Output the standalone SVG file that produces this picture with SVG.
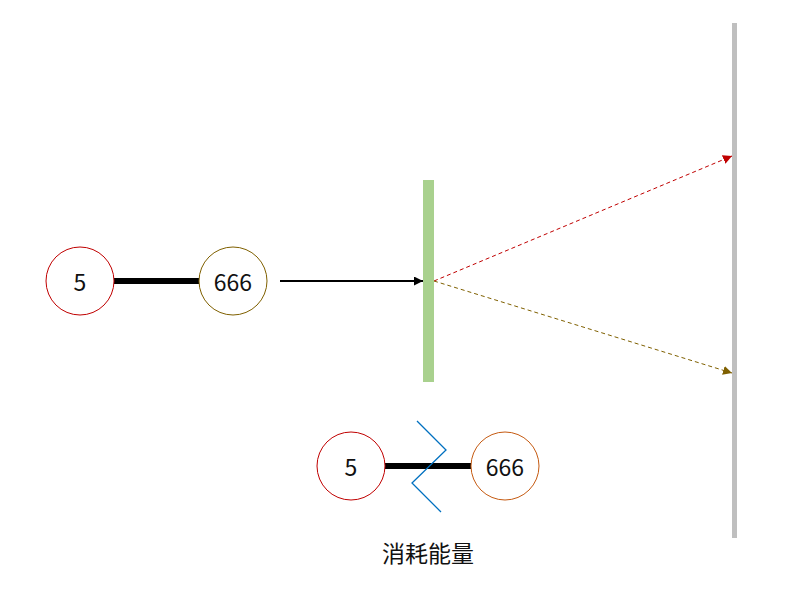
<svg xmlns="http://www.w3.org/2000/svg" width="785" height="596" viewBox="0 0 785 596">
<style>
.node{fill:#ffffff;stroke-width:1}
.lbl{font-family:"Noto Sans CJK SC","Noto Sans",sans-serif;font-size:23px;font-weight:400;fill:#111111;text-anchor:middle;dominant-baseline:central}
.bond{stroke:#000;stroke-width:6}
</style>
<defs>
<marker id="ab" viewBox="0 0 10 10" refX="10" refY="5" markerWidth="4.5" markerHeight="4.5" orient="auto" markerUnits="strokeWidth"><path d="M0,0L10,5L0,10z" fill="#000"/></marker>
<marker id="ar" viewBox="0 0 10 10" refX="10" refY="5" markerWidth="9" markerHeight="9" orient="auto" markerUnits="strokeWidth"><path d="M0,0L10,5L0,10z" fill="#c00000"/></marker>
<marker id="ao" viewBox="0 0 10 10" refX="10" refY="5" markerWidth="9" markerHeight="9" orient="auto" markerUnits="strokeWidth"><path d="M0,0L10,5L0,10z" fill="#7f6000"/></marker>
</defs>
<rect width="785" height="596" fill="#ffffff"/>
<g id="connectors">
<line class="bond" x1="114" y1="281" x2="199" y2="281"/>
<line x1="280" y1="281" x2="423" y2="281" stroke="#000" stroke-width="2" marker-end="url(#ab)"/>
<line x1="434" y1="281" x2="732" y2="156" stroke="#c00000" stroke-width="1" stroke-dasharray="4,3" marker-end="url(#ar)"/>
<line x1="434" y1="281" x2="732" y2="373" stroke="#7f6000" stroke-width="1" stroke-dasharray="4,3" marker-end="url(#ao)"/>
<line class="bond" x1="385" y1="466" x2="471" y2="466"/>
</g>
<g id="mirror"><rect x="423" y="180" width="11" height="202" fill="#a9d18e"/></g>
<g id="wall"><rect x="732" y="23" width="5" height="515" fill="#bfbfbf"/></g>
<g id="n1"><circle class="node" cx="80" cy="281" r="34" stroke="#c00000"/><text class="lbl" x="80" y="281">5</text></g>
<g id="n2"><circle class="node" cx="233" cy="281" r="34" stroke="#7f6000"/><text class="lbl" x="233" y="281">666</text></g>
<g id="n3"><circle class="node" cx="351" cy="466" r="34" stroke="#c00000"/><text class="lbl" x="351" y="466">5</text></g>
<g id="n4"><circle class="node" cx="505" cy="466" r="34" stroke="#c55a11"/><text class="lbl" x="505" y="466">666</text></g>
<g id="break"><polyline points="417,421 446,450 412,483 441,512" fill="none" stroke="#0070c0" stroke-width="1.3"/></g>
<g id="caption"><text class="lbl" x="428" y="552">消耗能量</text></g>
</svg>
